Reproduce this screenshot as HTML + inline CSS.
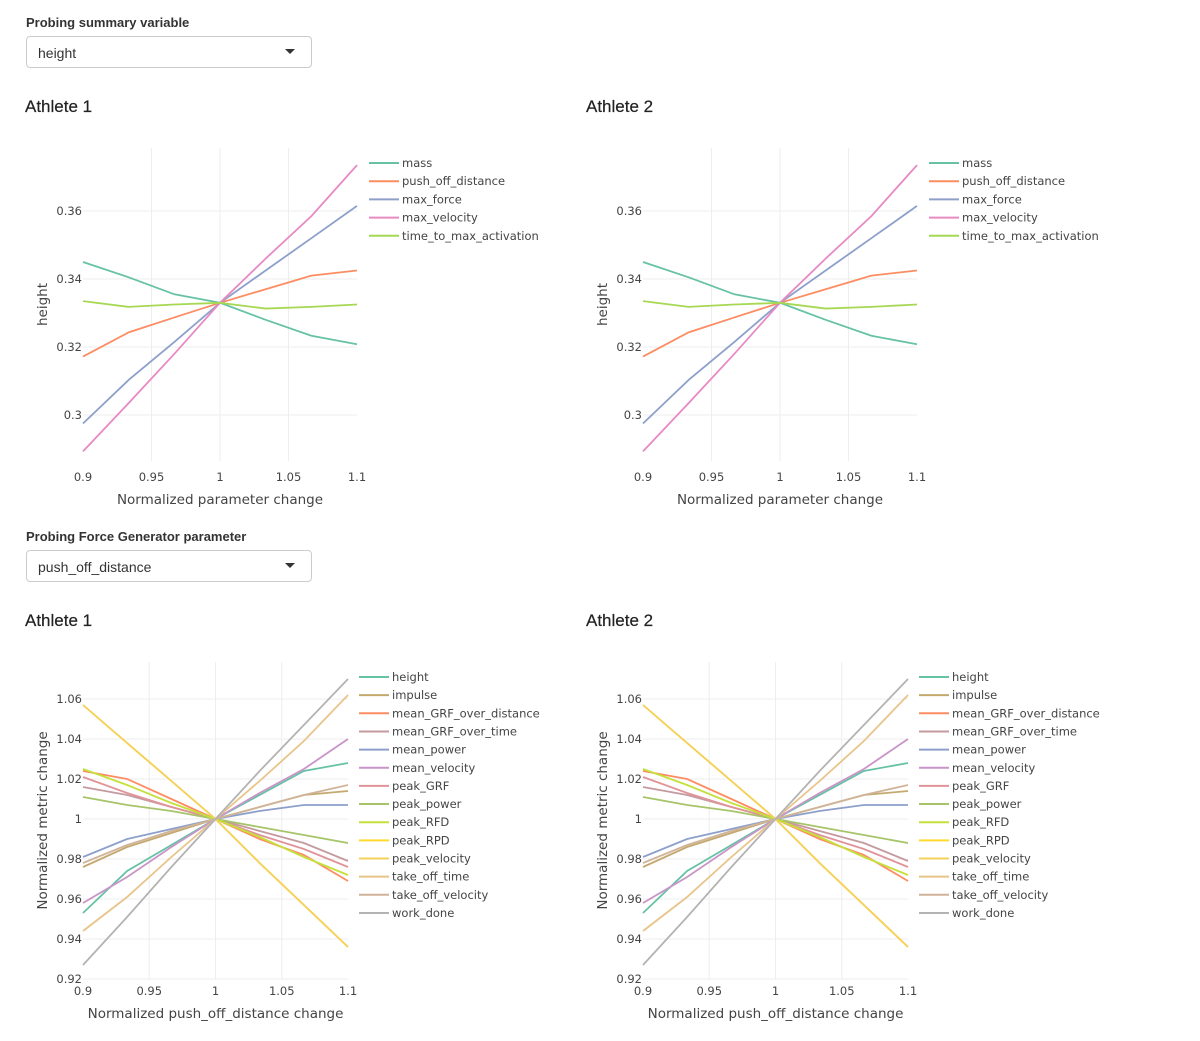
<!DOCTYPE html>
<html><head><meta charset="utf-8">
<style>
body{margin:0;width:1200px;height:1041px;background:#fff;font-family:"Liberation Sans",sans-serif;color:#333;position:relative;overflow:hidden}
.lbl{position:absolute;left:26px;font-weight:bold;font-size:13px;color:#333}
.sel{position:absolute;left:26px;width:286px;height:32px;border:1px solid #ccc;border-radius:4px;box-sizing:border-box;font-size:14px;padding:8px 11px;color:#333}
.sel:after{content:"";position:absolute;right:16px;top:12px;border-left:5px solid transparent;border-right:5px solid transparent;border-top:5px solid #333}
.ttl{position:absolute;font-size:17px;color:#222;font-weight:500;-webkit-text-stroke:0.2px #222}
svg{position:absolute;left:0;top:0}
svg text{font-family:"DejaVu Sans",sans-serif}
</style></head><body>
<div class="lbl" style="top:15px">Probing summary variable</div>
<div class="sel" style="top:36px">height</div>
<div class="ttl" style="left:25px;top:97px">Athlete 1</div>
<div class="ttl" style="left:586px;top:97px">Athlete 2</div>
<div class="lbl" style="top:529px">Probing Force Generator parameter</div>
<div class="sel" style="top:550px">push_off_distance</div>
<div class="ttl" style="left:25px;top:611px">Athlete 1</div>
<div class="ttl" style="left:586px;top:611px">Athlete 2</div>
<svg id="s" width="1200" height="1041" xmlns="http://www.w3.org/2000/svg"></svg>
<script>
const xVals=[0.9,0.9333,0.9667,1,1.0333,1.0667,1.1];
const xTicks=[0.9,0.95,1,1.05,1.1];
const xTickLabels=["0.9","0.95","1","1.05","1.1"];
const topNames=["mass","push_off_distance","max_force","max_velocity","time_to_max_activation"];
const topColors=["#66c2a5","#fc8d62","#8da0cb","#e78ac3","#a6d854"];
const topMass=[0.345,0.3405,0.3355,0.333,0.328,0.3233,0.3208];
const topPush=[0.3172,0.3243,0.3287,0.333,0.337,0.341,0.3425];
const topForce=[0.2975,0.3103,0.3215,0.333,0.3425,0.352,0.3615];
const topVel=[0.2893,0.3035,0.318,0.333,0.346,0.3585,0.3735];
const topTime=[0.3335,0.3318,0.3325,0.333,0.3313,0.3318,0.3325];
const topYTicks=[0.3,0.32,0.34,0.36];
const topYTickLabels=["0.3","0.32","0.34","0.36"];
const botNames=["height","impulse","mean_GRF_over_distance","mean_GRF_over_time","mean_power","mean_velocity","peak_GRF","peak_power","peak_RFD","peak_RPD","peak_velocity","take_off_time","take_off_velocity","work_done"];
const botColors=["#66c2a5","#c4a96f","#fc8d62","#c49a9f","#8da0cb","#c994c7","#e0949a","#a7c46a","#c6e03a","#ffd92f","#f5d05a","#e8c48a","#d0b49a","#b3b3b3"];
const bHeight=[0.953,0.974,0.987,1,1.012,1.024,1.028];
const bImpulse=[0.976,0.986,0.993,1,1.006,1.012,1.014];
const bGRFd=[1.024,1.020,1.010,1,0.990,0.982,0.969];
const bGRFt=[1.016,1.012,1.006,1,0.994,0.988,0.979];
const bPower=[0.981,0.990,0.995,1,1.004,1.007,1.007];
const bVel=[0.958,0.971,0.986,1,1.013,1.025,1.040];
const bPGRF=[1.021,1.013,1.006,1,0.992,0.985,0.976];
const bPPow=[1.011,1.007,1.004,1,0.996,0.992,0.988];
const bRFD=[1.025,1.017,1.008,1,0.991,0.981,0.972];
const bRPD=[1.057,1.038,1.019,1,0.978,0.957,0.936];
const bPVel=[1.057,1.038,1.019,1,0.978,0.957,0.936];
const bTOT=[0.944,0.961,0.981,1,1.019,1.039,1.062];
const bTOV=[0.978,0.987,0.994,1,1.006,1.012,1.017];
const bWork=[0.927,0.951,0.976,1,1.024,1.047,1.07];
const botYTicks=[0.92,0.94,0.96,0.98,1,1.02,1.04,1.06];
const botYTickLabels=["0.92","0.94","0.96","0.98","1","1.02","1.04","1.06"];
const topSeries=[topMass,topPush,topForce,topVel,topTime];
const botSeries=[bHeight,bImpulse,bGRFd,bGRFt,bPower,bVel,bPGRF,bPPow,bRFD,bRPD,bPVel,bTOT,bTOV,bWork];
const S=document.getElementById('s');const NS="http://www.w3.org/2000/svg";
function mk(t,a,txt){const e=document.createElementNS(NS,t);for(const k in a)e.setAttribute(k,a[k]);if(txt!==undefined)e.textContent=txt;S.appendChild(e);return e;}
function chart(o){
  const X=v=>o.x0+(v-0.9)/0.2*(o.x1-o.x0);
  const Y=v=>o.yRef+(o.vRef-v)*o.ppu;
  xTicks.forEach((t,i)=>{
    if(i>0&&i<xTicks.length-1){const g=mk('line',{x1:X(t),x2:X(t),y1:o.top,y2:o.bot,stroke:'#eee'});
    }
    const l=mk('text',{x:X(t),y:o.bot+o.xlOff,'text-anchor':'middle','font-size':11.5,fill:'#444'},xTickLabels[i]);
    
  });
  o.yt.forEach((t,i)=>{
    const g=mk('line',{x1:o.x0,x2:o.x1,y1:Y(t),y2:Y(t),stroke:'#eee'});
    
    const l=mk('text',{x:o.x0-1,y:Y(t)+4,'text-anchor':'end','font-size':11.5,fill:'#444'},o.ytl[i]);
    
  });
  const xt=mk('text',{x:(o.x0+o.x1)/2,y:o.bot+o.xtOff,'text-anchor':'middle','font-size':13.5,fill:'#444'},o.xTitle);
  
  const yc=(o.top+o.bot)/2;
  const yt=mk('text',{x:o.yTitleX,y:yc,'text-anchor':'middle','font-size':13.5,fill:'#444',transform:`rotate(-90 ${o.yTitleX} ${yc})`},o.yTitle);
  
  o.series.forEach((s,i)=>{
    const p=mk('polyline',{points:s.map((v,j)=>X(xVals[j])+','+Y(v)).join(' '),fill:'none',stroke:o.colors[i],'stroke-width':1.8});
    
  });
  o.names.forEach((n,i)=>{
    const y=o.legY+i*o.legStep;
    const l=mk('line',{x1:o.legX,x2:o.legX+30,y1:y,y2:y,stroke:o.colors[i],'stroke-width':2});
    
    const t=mk('text',{x:o.legX+33,y:y+4,'font-size':11.5,fill:'#444'},n);
    
  });
}
[0,560].forEach(dx=>{
  chart({x0:83+dx,x1:357+dx,top:148,bot:461,yRef:211,vRef:0.36,ppu:3400,yt:topYTicks,ytl:topYTickLabels,xlOff:20,xtOff:43,
    xTitle:"Normalized parameter change",yTitle:"height",yTitleX:47+dx,series:topSeries,colors:topColors,names:topNames,
    legX:369+dx,legY:163,legStep:18.2});
  chart({x0:83+dx,x1:348+dx,top:662,bot:979,yRef:819,vRef:1,ppu:2000,yt:botYTicks,ytl:botYTickLabels,xlOff:16,xtOff:39,
    xTitle:"Normalized push_off_distance change",yTitle:"Normalized metric change",yTitleX:47+dx,series:botSeries,colors:botColors,names:botNames,
    legX:359+dx,legY:677,legStep:18.15});
});
</script>
</body></html>
